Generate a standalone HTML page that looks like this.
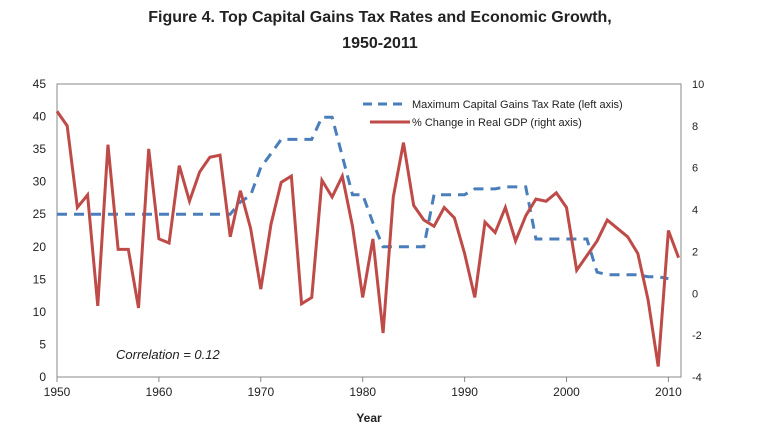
<!DOCTYPE html>
<html><head><meta charset="utf-8"><style>
body{margin:0;background:#fff;font-family:"Liberation Sans",sans-serif}
svg text{font-family:"Liberation Sans",sans-serif;fill:#222}
</style></head><body>
<svg width="758" height="437">
<text x="380" y="22" text-anchor="middle" font-size="16" font-weight="bold">Figure 4. Top Capital Gains Tax Rates and Economic Growth,</text>
<text x="380" y="48" text-anchor="middle" font-size="16" font-weight="bold">1950-2011</text>
<rect x="57" y="84" width="624" height="293" fill="none" stroke="#888"/>
<g id="axes"></g><g id="marks"></g>
<text x="369" y="422" text-anchor="middle" font-size="12" font-weight="bold">Year</text>
<text x="116" y="359" font-size="13" font-style="italic">Correlation = 0.12</text>
<g>
<line x1="363" y1="104" x2="405" y2="104" stroke="#4a7ebb" stroke-width="3" stroke-dasharray="9,6"/>
<text x="412" y="108" font-size="11">Maximum Capital Gains Tax Rate (left axis)</text>
<line x1="370" y1="122" x2="410" y2="122" stroke="#be4b48" stroke-width="3"/>
<text x="412" y="126" font-size="11">% Change in Real GDP (right axis)</text>
</g>
</svg>
<script>
const years=[];for(let y=1950;y<=2011;y++)years.push(y);
const gdp=[8.7,8.0,4.1,4.7,-0.6,7.1,2.1,2.1,-0.7,6.9,2.6,2.4,6.1,4.4,5.8,6.5,6.6,2.7,4.9,3.1,0.2,3.3,5.3,5.6,-0.5,-0.2,5.4,4.6,5.6,3.2,-0.2,2.6,-1.9,4.6,7.2,4.2,3.5,3.2,4.1,3.6,1.9,-0.2,3.4,2.9,4.1,2.5,3.7,4.5,4.4,4.8,4.1,1.1,1.8,2.5,3.5,3.1,2.7,1.9,-0.3,-3.5,3.0,1.7];
const taxYears=[];for(let y=1950;y<=2010;y++)taxYears.push(y);
const tax=[25,25,25,25,25,25,25,25,25,25,25,25,25,25,25,25,25,25,26.9,27.9,32.2,34.3,36.5,36.5,36.5,36.5,39.9,39.9,33.9,28,28,23.7,20,20,20,20,20,28,28,28,28,28.9,28.9,28.9,29.2,29.2,29.2,21.2,21.2,21.2,21.2,21.2,21.2,16.1,15.7,15.7,15.7,15.7,15.4,15.4,15.1];
const leftTicks=[0,5,10,15,20,25,30,35,40,45];
const rightTicks=[-4,-2,0,2,4,6,8,10];
const xTicks=[1950,1960,1970,1980,1990,2000,2010];
const X=y=>57+(y-1950)*10.19, YL=v=>377-v*293/45, YR=v=>377-(v+4)*293/14;
const NS="http://www.w3.org/2000/svg";
function mk(t,a,p){const e=document.createElementNS(NS,t);for(const k in a)e.setAttribute(k,a[k]);p.appendChild(e);return e;}
const ax=document.getElementById('axes'),mg=document.getElementById('marks');
leftTicks.forEach(v=>{const t=mk('text',{x:46,y:YL(v)+4,'text-anchor':'end','font-size':12},ax);t.textContent=v;

});
rightTicks.forEach(v=>{const t=mk('text',{x:692,y:YR(v)+4,'font-size':11},ax);t.textContent=v;

});
xTicks.forEach(v=>{mk('line',{x1:X(v),x2:X(v),y1:377,y2:382,stroke:'#888'},ax);
const t=mk('text',{x:X(v),y:396,'text-anchor':'middle','font-size':12},ax);t.textContent=v;

});
const tl=mk('polyline',{points:taxYears.map((y,i)=>X(y)+','+YL(tax[i])).join(' '),fill:'none',stroke:'#4a7ebb','stroke-width':3,'stroke-dasharray':'10,7'},mg);


const gl=mk('polyline',{points:years.map((y,i)=>X(y)+','+YR(gdp[i])).join(' '),fill:'none',stroke:'#be4b48','stroke-width':3,'stroke-linejoin':'miter'},mg);


</script>
</body></html>
